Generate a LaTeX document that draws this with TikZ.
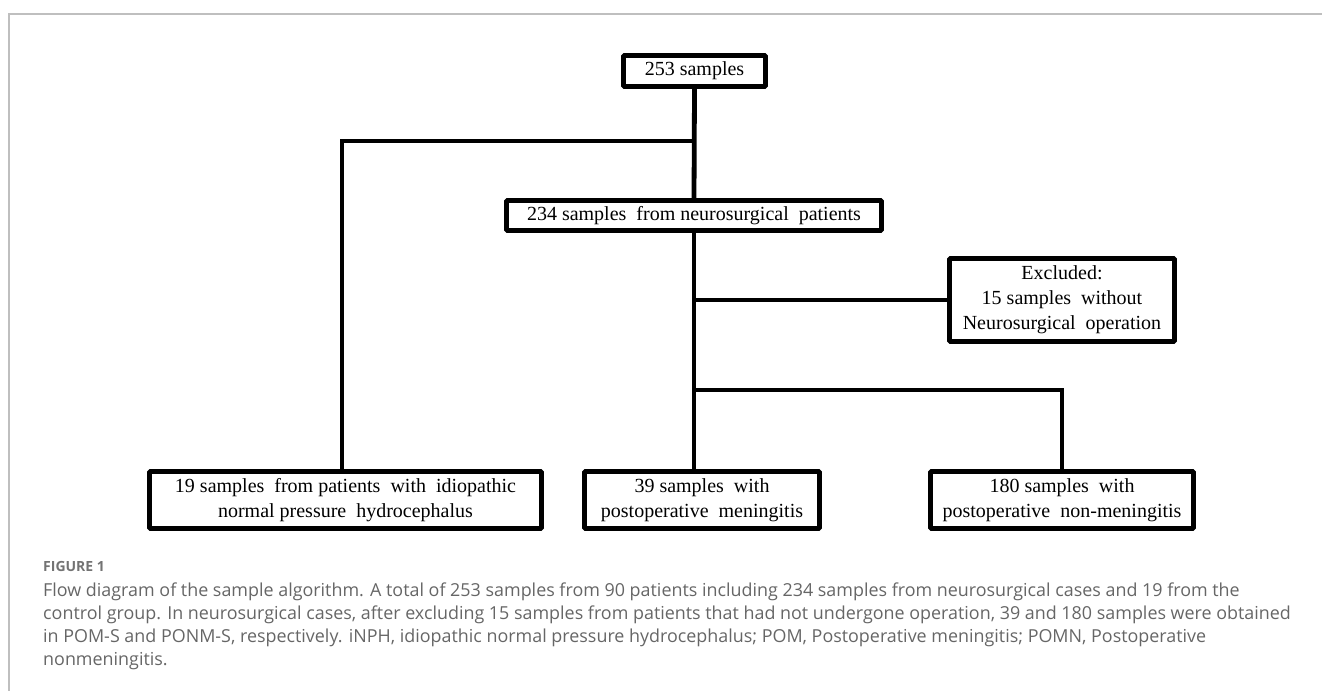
\documentclass[tikz,border=0pt]{standalone}
\usepackage{fontspec}
\setmainfont{Liberation Serif}
\newfontfamily\capfont{Open Sans}
\begin{document}
\begin{tikzpicture}[x=1pt,y=-1pt,
  box/.style={draw=black,line width=4.8pt,rounded corners=1pt,inner sep=0pt,align=center,
    font=\fontsize{20}{25}\selectfont,fill=white},
  conn/.style={draw=black,line width=4.8pt},
  frameline/.style={draw=black!25,line width=2pt},
  capline/.style={anchor=base west,inner sep=0pt,text=black!60,font=\capfont\fontsize{17.9}{23}\selectfont}]
\useasboundingbox (0,0) rectangle (1322,691);
\draw[frameline] (1322,14) -- (9,14) -- (9,691);
% boxes
\node[box,minimum width=142pt,minimum height=31pt] (top) at (694.5,71) {253 samples};
\node[box,minimum width=375pt,minimum height=30pt] (n234) at (694,215.5) {234 samples\ \ from neurosurgical\ \ patients};
\node[box,minimum width=225pt,minimum height=83pt] (excl) at (1062,300) {Excluded:\\15 samples\ \ without\\Neurosurgical\ \ operation};
\node[box,minimum width=392pt,minimum height=57pt] (inph) at (345.5,500) {19 samples\ \ from patients\ \ with\ \ idiopathic\\normal pressure\ \ hydrocephalus};
\node[box,minimum width=235pt,minimum height=57pt] (men) at (702,500) {39 samples\ \ with\\postoperative\ \ meningitis};
\node[box,minimum width=263pt,minimum height=57pt] (non) at (1062,500) {180 samples\ \ with\\postoperative\ \ non-meningitis};
% junctions
\coordinate (j1) at (694,141);
\coordinate (j2) at (694,300);
\coordinate (j3) at (694,390);
% connectors
\draw[conn] (top.south) -- (n234.north);
\draw[conn] (j1) -| (inph.north -| 342,0);
\draw[conn] (n234.south) -- (n234.south |- men.north);
\draw[conn] (j2) -- (excl.west);
\draw[conn] (j3) -| (non.north);
% caption
\node[anchor=base west,inner sep=0pt,text=black!55,font=\capfont\bfseries\fontsize{14}{17}\selectfont] (figlab) at (43,571) {FIGURE 1};
\node[capline] (cap1) at (43,596) {Flow diagram of the sample algorithm. A total of 253 samples from 90 patients including 234 samples from neurosurgical cases and 19 from the};
\node[capline] (cap2) at (43,619) {control group. In neurosurgical cases, after excluding 15 samples from patients that had not undergone operation, 39 and 180 samples were obtained};
\node[capline] (cap3) at (43,642) {in POM-S and PONM-S, respectively. iNPH, idiopathic normal pressure hydrocephalus; POM, Postoperative meningitis; POMN, Postoperative};
\node[capline] (cap4) at (43,665) {nonmeningitis.};
\end{tikzpicture}
\end{document}
